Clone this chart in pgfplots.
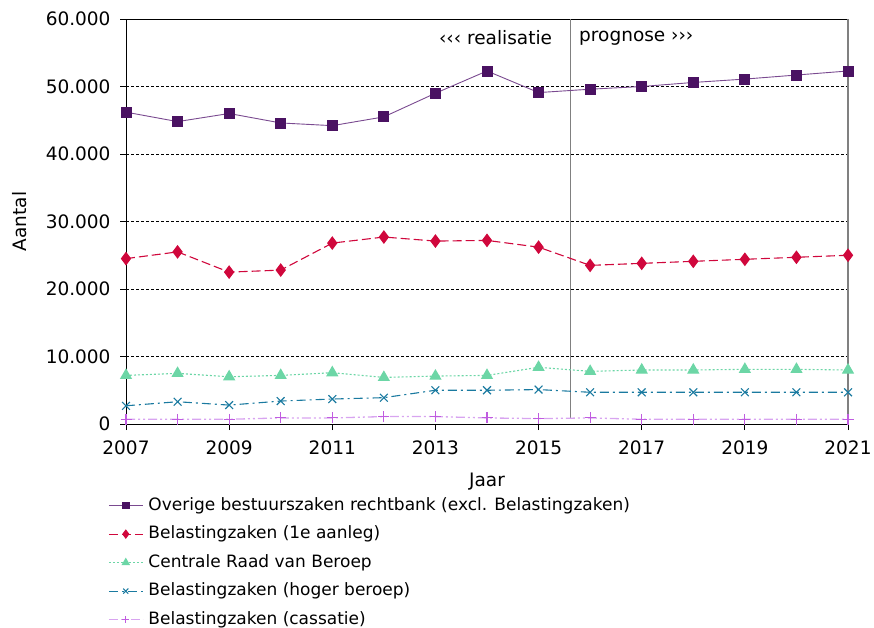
\documentclass[border=0pt]{standalone}
\usepackage{pgfplots}
\pgfplotsset{compat=1.18}
\usepackage{fontspec}
\setmainfont{DejaVu Sans}
\definecolor{cpurple}{HTML}{4A1262}
\definecolor{cpurpleline}{HTML}{7A4A90}
\definecolor{cred}{HTML}{D0073C}
\definecolor{cgreen}{HTML}{6CD6A6}
\definecolor{cblue}{HTML}{1A7AA0}
\definecolor{cviolet}{HTML}{C05CE0}
\definecolor{cvioletline}{HTML}{D8A4F0}
\definecolor{cgray}{HTML}{808080}
\begin{document}
\begin{tikzpicture}
\useasboundingbox (0pt,0pt) rectangle (874pt,627pt);
\begin{axis}[
  at={(126pt,203pt)}, anchor=south west,
  scale only axis, width=722pt, height=405pt,
  xmin=2007, xmax=2021, ymin=0, ymax=60000,
  xtick={2007,2009,...,2021}, ytick={0,10000,...,60000},
  axis line style={draw=none},
  tick align=outside, major tick length=6pt,
  tick style={black, line width=0.8pt},
  xtick pos=bottom, ytick pos=left,
  ymajorgrids, grid style={black, dash pattern=on 3pt off 2pt, line width=0.6pt},
  scaled y ticks=false,
  font=\fontsize{18.5}{22}\selectfont,
  /pgf/number format/assume math mode=true,
  xticklabel style={/pgf/number format/1000 sep={}, anchor=north, yshift=-7pt},
  yticklabel style={/pgf/number format/1000 sep={.}, xshift=-6pt},
  xlabel={Jaar}, ylabel={Aantal},
  xlabel style={at={(axis description cs:0.5,-0.143)}, anchor=center},
  ylabel style={at={(axis description cs:-0.147,0.5)}, anchor=center},
  clip=false,
  legend style={at={(axis description cs:-0.025,-0.18)}, anchor=north west,
    draw=none, fill=none, inner sep=0pt, row sep=11.5pt,
    nodes={inner sep=0pt, text height=13pt, text depth=4pt},
    /tikz/every odd column/.append style={column sep=5pt},
    font=\fontsize{17}{20}\selectfont},
  legend cell align=left,
  legend image code/.code={\draw[mark repeat=2,mark phase=2,#1,every mark/.append style={scale=0.65}] plot coordinates {(0pt,0pt)(17pt,0pt)(34pt,0pt)};},
]
% frame lines
\draw[black, line width=0.9pt] (axis cs:2007,0) -- (axis cs:2007,60000);
\draw[black, line width=0.9pt] (axis cs:2007,0) -- (axis cs:2021,0);
\draw[black, line width=0.9pt] (axis cs:2007,60000) -- (axis cs:2021,60000);
\draw[cgray, line width=1.2pt] (axis cs:2021,0) -- (axis cs:2021,60000);
\draw[cgray, line width=1pt] (axis cs:2015.61,900) -- (axis cs:2015.61,60000);
\node[anchor=east] at (axis cs:2015.33,57200) {‹‹‹ realisatie};
\node[anchor=west] at (axis cs:2015.72,57200) {prognose ›››};

\addplot[cpurpleline, line width=0.9pt, mark=square*, mark size=5pt, mark options={solid, fill=cpurple, draw=cpurple}]
 coordinates {(2007,46200)(2008,44800)(2009,46000)(2010,44600)(2011,44200)(2012,45500)(2013,49000)(2014,52300)(2015,49100)(2016,49600)(2017,50000)(2018,50600)(2019,51100)(2020,51700)(2021,52300)};
\addlegendentry{Overige bestuurszaken rechtbank (excl. Belastingzaken)}

\addplot[cred, line width=1.1pt, dash pattern=on 9pt off 4pt, mark=diamond*, mark size=6pt, mark options={solid, fill=cred, draw=cred}]
 coordinates {(2007,24500)(2008,25500)(2009,22500)(2010,22800)(2011,26800)(2012,27700)(2013,27100)(2014,27200)(2015,26200)(2016,23500)(2017,23800)(2018,24100)(2019,24400)(2020,24700)(2021,25000)};
\addlegendentry{Belastingzaken (1e aanleg)}

\addplot[cgreen, line width=1.1pt, dash pattern=on 2pt off 2pt, mark=triangle*, mark size=6pt, mark options={solid, fill=cgreen, draw=cgreen}]
 coordinates {(2007,7200)(2008,7500)(2009,7000)(2010,7200)(2011,7600)(2012,6900)(2013,7100)(2014,7200)(2015,8400)(2016,7800)(2017,8000)(2018,8000)(2019,8100)(2020,8100)(2021,8000)};
\addlegendentry{Centrale Raad van Beroep}

\addplot[cblue, line width=1.1pt, dash pattern=on 9pt off 4pt on 2pt off 4pt, mark=x, mark size=5.5pt, mark options={solid, draw=cblue, line width=1.1pt}]
 coordinates {(2007,2700)(2008,3300)(2009,2800)(2010,3400)(2011,3700)(2012,3900)(2013,5000)(2014,5000)(2015,5100)(2016,4700)(2017,4700)(2018,4700)(2019,4700)(2020,4700)(2021,4700)};
\addlegendentry{Belastingzaken (hoger beroep)}

\addplot[cvioletline, line width=1.3pt, dash pattern=on 9pt off 3pt on 2pt off 3pt on 2pt off 3pt, mark=+, mark size=5.5pt, mark options={solid, draw=cviolet, line width=1.1pt}]
 coordinates {(2007,700)(2008,700)(2009,700)(2010,900)(2011,900)(2012,1100)(2013,1100)(2014,900)(2015,800)(2016,900)(2017,700)(2018,700)(2019,700)(2020,700)(2021,700)};
\addlegendentry{Belastingzaken (cassatie)}
\end{axis}
\end{tikzpicture}
\end{document}
